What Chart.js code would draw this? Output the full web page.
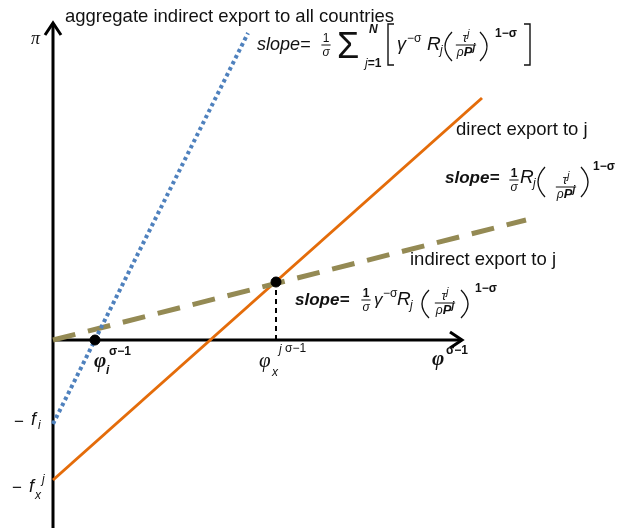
<!DOCTYPE html>
<html>
<head>
<meta charset="utf-8">
<script src="https://cdn.jsdelivr.net/npm/chart.js@4.4.1/dist/chart.umd.min.js"></script>
<style>
  html, body { margin: 0; padding: 0; background: #fff; }
  #wrap { width: 629px; height: 528px; position: relative; }
</style>
</head>
<body>
<div id="wrap"><canvas id="diagram"></canvas></div>
<script>
// AXES (x = phi^(sigma-1), y = profit pi)
const axisX = [0, 40.9];
const axisPi = [-18.8, 31.7];

// PROFIT LINES, values at both ends
const directX = [0, 42.9];
const directPi = [-14.0, 24.2];
const aggregateX = [0, 19.5];
const aggregatePi = [-8.4, 30.7];
const indirectX = [0, 47.3];
const indirectPi = [0, 12.0];

// CUTOFFS phi_i and phi_x
const cutoffX = [4.2, 22.3];
const cutoffPi = [0, 5.8];

// COLORS
const BLUE = "#4f81bd";
const ORANGE = "#e46c0a";
const OLIVE = "#948a54";

const SANS = '"Liberation Sans", Arial, sans-serif';
const SERIF = '"Liberation Serif", "Times New Roman", serif';
const fIt = (s) => `italic ${s}px ${SANS}`;
const fBI = (s) => `italic bold ${s}px ${SANS}`;
const fN = (s) => `${s}px ${SANS}`;
const fB = (s) => `bold ${s}px ${SANS}`;

function pts(xs, ys) {
    return xs.map((x, i) => ({ x, y: ys[i] }));
}

// TEXT HELPERS
function put(ctx, s, x, y, font) {
    ctx.font = font;
    ctx.textAlign = "left";
    ctx.fillText(s, x, y);
    return ctx.measureText(s).width;
}

function runs(ctx, x, y, items, draw = true) {
    let cx = x;
    items.forEach(([s, font, dy]) => {
        ctx.font = font;
        if (draw) ctx.fillText(s, cx, y + (dy || 0));
        cx += ctx.measureText(s).width;
    });
    return cx - x;
}

function frac(ctx, cx, bar, num, den) {
    const wn = runs(ctx, 0, 0, num, false);
    const wd = runs(ctx, 0, 0, den, false);
    const w = Math.max(wn, wd) + 2;
    runs(ctx, cx - wn / 2, bar - 3, num);
    runs(ctx, cx - wd / 2, bar + 11, den);
    ctx.beginPath();
    ctx.moveTo(cx - w / 2, bar);
    ctx.lineTo(cx + w / 2, bar);
    ctx.lineWidth = 1;
    ctx.stroke();
}

function paren(ctx, x0, x1, top, bot, open) {
    ctx.beginPath();
    if (open) {
        ctx.moveTo(x1, top);
        ctx.quadraticCurveTo(2 * x0 - x1, (top + bot) / 2, x1, bot);
    } else {
        ctx.moveTo(x0, top);
        ctx.quadraticCurveTo(2 * x1 - x0, (top + bot) / 2, x0, bot);
    }
    ctx.lineWidth = 1.3;
    ctx.stroke();
}

function bracket(ctx, x, top, bot, dir) {
    ctx.beginPath();
    ctx.moveTo(x + 6 * dir, top);
    ctx.lineTo(x, top);
    ctx.lineTo(x, bot);
    ctx.lineTo(x + 6 * dir, bot);
    ctx.lineWidth = 1.4;
    ctx.stroke();
}

const tauNum = [["τ", fIt(13)], ["j", fIt(10), -5]];
const rhoDen = [["ρ", fIt(12)], ["P", fBI(13)], ["j", fBI(10), -5]];

// ARROWHEADS + LABELS
const labelsPlugin = {
    id: "labels",
    afterDatasetsDraw(chart) {
        const { ctx, scales } = chart;
        const x = scales.x, y = scales.y;
        ctx.save();
        ctx.strokeStyle = "#000";
        ctx.lineWidth = 3;
        ctx.lineCap = "butt";
        ctx.lineJoin = "miter";
        // y arrow
        const yx = x.getPixelForValue(0), yy = y.getPixelForValue(axisPi[1]);
        ctx.beginPath();
        ctx.moveTo(yx - 8, yy + 12);
        ctx.lineTo(yx, yy);
        ctx.lineTo(yx + 8, yy + 12);
        ctx.stroke();
        // x arrow
        const xx = x.getPixelForValue(axisX[1]), xy = y.getPixelForValue(0);
        ctx.beginPath();
        ctx.moveTo(xx - 12, xy - 8);
        ctx.lineTo(xx, xy);
        ctx.lineTo(xx - 12, xy + 8);
        ctx.stroke();
        ctx.restore();
    },
    afterDraw(chart) {
        const ctx = chart.ctx;
        ctx.save();
        ctx.fillStyle = "#111";
        ctx.strokeStyle = "#111";
        ctx.textBaseline = "alphabetic";

        // axis titles
        put(ctx, "π", 31, 44, `italic 18px ${SERIF}`);
        put(ctx, "aggregate indirect export to all countries", 65, 22, fN(18.5));
        put(ctx, "direct export to j", 456, 135, fN(18.5));
        put(ctx, "indirect export to j", 410, 265, fN(18.5));

        // aggregate slope
        put(ctx, "slope=", 257, 50, fIt(18));
        frac(ctx, 326, 45, [["1", fN(12)]], [["σ", fIt(12)]]);
        put(ctx, "Σ", 337, 58, fN(36));
        put(ctx, "N", 369, 33, fBI(12));
        runs(ctx, 365, 67, [["j", fIt(12)], ["=1", fB(12)]]);
        bracket(ctx, 388, 24, 65, 1);
        put(ctx, "γ", 397, 50, fIt(18));
        put(ctx, "−σ", 407, 42, fN(12));
        put(ctx, "R", 427, 50, fIt(19));
        put(ctx, "j", 440, 54, fIt(12));
        paren(ctx, 445, 452, 32, 61, true);
        frac(ctx, 466, 45, tauNum, rhoDen);
        paren(ctx, 480, 487, 32, 61, false);
        put(ctx, "1−σ", 495, 37, fB(12));
        bracket(ctx, 530, 24, 65, -1);

        // direct slope
        put(ctx, "slope=", 445, 183, fBI(17));
        frac(ctx, 514, 180, [["1", fB(12)]], [["σ", fIt(12)]]);
        put(ctx, "R", 520, 183, fIt(19));
        put(ctx, "j", 533, 187, fIt(12));
        paren(ctx, 538, 545, 167, 197, true);
        frac(ctx, 566, 187, tauNum, rhoDen);
        paren(ctx, 581, 588, 167, 197, false);
        put(ctx, "1−σ", 593, 170, fB(12));

        // indirect slope
        put(ctx, "slope=", 295, 305, fBI(17));
        frac(ctx, 366, 300, [["1", fB(12)]], [["σ", fIt(12)]]);
        put(ctx, "γ", 374, 305, fIt(17));
        put(ctx, "−σ", 383, 297, fN(12));
        put(ctx, "R", 397, 305, fIt(19));
        put(ctx, "j", 410, 309, fIt(12));
        paren(ctx, 422, 429, 290, 318, true);
        frac(ctx, 445, 303, tauNum, rhoDen);
        paren(ctx, 461, 468, 290, 318, false);
        put(ctx, "1−σ", 475, 292, fB(12));

        // x axis labels
        put(ctx, "φ", 94, 367, `italic bold 21px ${SERIF}`);
        put(ctx, "i", 106, 374, fBI(12));
        put(ctx, "σ−1", 109, 355, fB(12));
        put(ctx, "φ", 259, 367, `italic 21px ${SERIF}`);
        put(ctx, "x", 272, 376, fIt(12));
        put(ctx, "j", 279, 353, fIt(12));
        put(ctx, "σ−1", 285, 352, fN(12));
        put(ctx, "φ", 432, 365, `italic bold 21px ${SERIF}`);
        put(ctx, "σ−1", 446, 354, fB(12));

        // fixed costs
        put(ctx, "−", 14, 427, fN(17));
        put(ctx, "f", 31, 425, fIt(18));
        put(ctx, "i", 38, 429, fIt(12));
        put(ctx, "−", 12, 493, fN(17));
        put(ctx, "f", 29, 492, fIt(18));
        put(ctx, "x", 35, 499, fIt(12));
        put(ctx, "j", 42, 483, fIt(12));

        ctx.restore();
    },
};

// CHART
const line = (data, color, width, dash) => ({
    type: "scatter",
    data,
    showLine: true,
    borderColor: color,
    borderWidth: width,
    borderDash: dash || [],
    pointRadius: 0,
    fill: false,
});

new Chart(document.getElementById("diagram"), {
    type: "scatter",
    data: {
        datasets: [
            {
                data: pts(cutoffX, cutoffPi),
                pointRadius: 5,
                backgroundColor: "#000",
                borderColor: "#000",
                showLine: false,
            },
            line(pts(aggregateX, aggregatePi), BLUE, 4, [3.5, 3.2]),
            line(pts(indirectX, indirectPi), OLIVE, 5, [23, 13]),
            line(pts(directX, directPi), ORANGE, 3),
            line(pts([cutoffX[1], cutoffX[1]], [0, cutoffPi[1]]), "#000", 2, [5, 4]),
            line(pts(axisX, [0, 0]), "#000", 3),
            line(pts([0, 0], axisPi), "#000", 3),
        ],
    },
    options: {
        responsive: true,
        maintainAspectRatio: false,
        animation: false,
        layout: { padding: 0, autoPadding: false },
        plugins: {
            legend: { display: false },
            tooltip: { enabled: false },
        },
        scales: {
            x: { type: "linear", min: -5.3, max: 57.6, display: false },
            y: { type: "linear", min: -18.8, max: 34.0, display: false },
        },
    },
    plugins: [labelsPlugin],
});
</script>
</body>
</html>
